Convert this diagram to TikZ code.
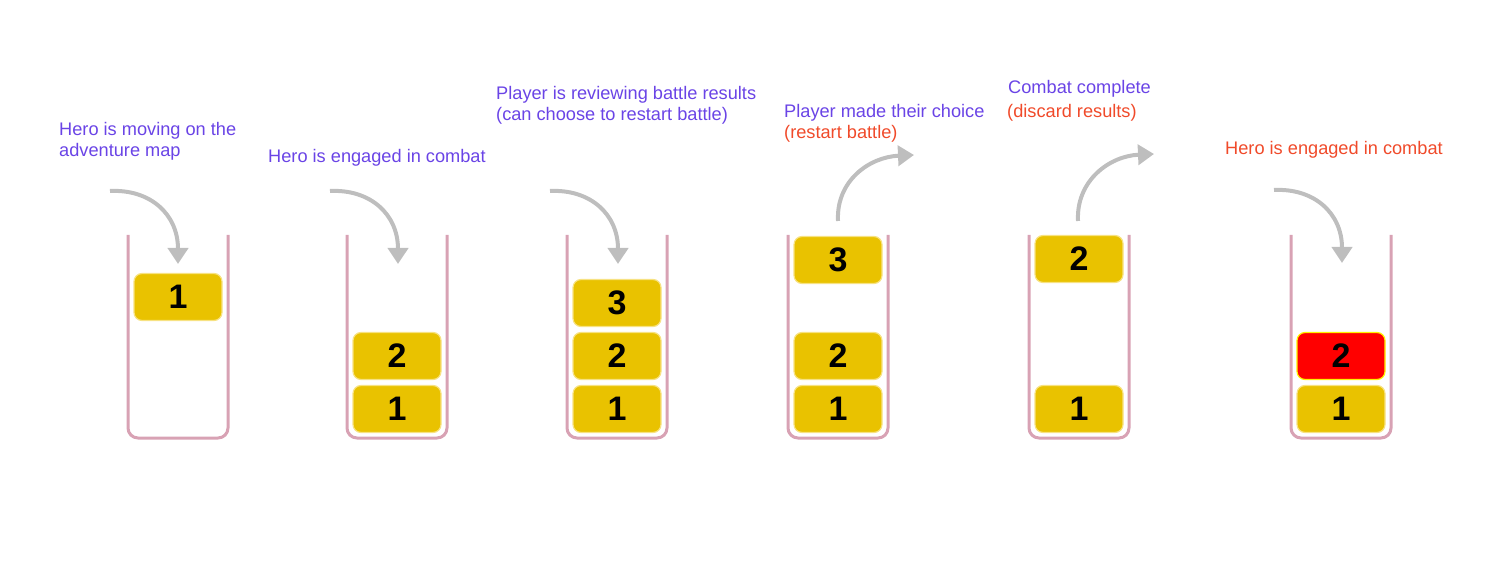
\documentclass[tikz,border=0pt]{standalone}
\usepackage{fontspec}
\setmainfont{Liberation Sans}
\usetikzlibrary{arrows.meta}
\definecolor{mygold}{RGB}{233, 194, 0}
\definecolor{myglow}{RGB}{247, 226, 130}
\definecolor{mypurple}{RGB}{106, 68, 230}
\definecolor{myred}{RGB}{240, 74, 42}
\definecolor{mygray}{RGB}{190, 190, 190}
\definecolor{mypink}{RGB}{216, 162, 180}

\begin{document}
\begin{tikzpicture}[x=1pt,y=-1pt,
	slot/.style={draw=myglow,line width=1.2pt,fill=mygold,rounded corners=8pt,minimum width=88pt,minimum height=47pt,inner sep=0pt,font=\fontsize{34}{34}\selectfont\bfseries},
	cup/.style={draw=mypink,line width=3pt,rounded corners=10pt},
	move/.style={draw=mygray,line width=4pt,-{Triangle[width=20pt,length=16pt]}},
	note/.style={anchor=base west,inner sep=0pt,font=\fontsize{18.2}{21}\selectfont,text=mypurple},
	alert/.style={note,text=myred}]
	\useasboundingbox (0,0) rectangle (1495,577);
  		\draw[cup] (128,235) -- (128,438) -- (228,438) -- (228,235);
  		\draw[cup] (347,235) -- (347,438) -- (447,438) -- (447,235);
  		\draw[cup] (567,235) -- (567,438) -- (667,438) -- (667,235);
  		\draw[cup] (788,235) -- (788,438) -- (888,438) -- (888,235);
  		\draw[cup] (1029,235) -- (1029,438) -- (1129,438) -- (1129,235);
  		\draw[cup] (1291,235) -- (1291,438) -- (1391,438) -- (1391,235);
		\node[slot] (a1) at (178,297) {1};
		\node[slot] (b1) at (397,409) {1};
		\node[slot] (b2) at (397,356) {2};
		\node[slot] (c1) at (617,409) {1};
		\node[slot] (c2) at (617,356) {2};
		\node[slot] (c3) at (617,303) {3};
		\node[slot] (d1) at (838,409) {1};
		\node[slot] (d2) at (838,356) {2};
		\node[slot] (d3) at (838,260) {3};
		\node[slot] (e1) at (1079,409) {1};
		\node[slot] (e2) at (1079,259) {2};
		\node[slot] (f1) at (1341,409) {1};
		\node[slot,fill=red,draw=yellow] (f2) at (1341,356) {2};
		\node[note] (n1a) at (59,136) {Hero is moving on the};
		\node[note] (n1b) at (59,157) {adventure map};
		\node[note] (n2) at (268,163) {Hero is engaged in combat};
		\node[note] (n3a) at (496,100) {Player is reviewing battle results};
		\node[note] (n3b) at (496,121) {(can choose to restart battle)};
		\node[note] (n4a) at (784,118) {Player made their choice};
		\node[alert] (n4b) at (784,139) {(restart battle)};
		\node[note] (n5a) at (1008,94) {Combat complete};
		\node[alert] (n5b) at (1007,118) {(discard results)};
		\node[alert] (n6) at (1225,155) {Hero is engaged in combat};
		\coordinate (s1) at (110,191); \coordinate (t1) at (178,264);
		\coordinate (s2) at (330,191); \coordinate (t2) at (398,264);
		\coordinate (s3) at (550,191); \coordinate (t3) at (618,264);
		\coordinate (s4) at (838,221); \coordinate (t4) at (914,155);
		\coordinate (s5) at (1078,221); \coordinate (t5) at (1154,154);
		\coordinate (s6) at (1274,190); \coordinate (t6) at (1342,263);
		\draw[move] (s1) .. controls +(40,-2) and +(0,-50) .. (t1);
		\draw[move] (s2) .. controls +(40,-2) and +(0,-50) .. (t2);
		\draw[move] (s3) .. controls +(40,-2) and +(0,-50) .. (t3);
		\draw[move] (s6) .. controls +(40,-2) and +(0,-50) .. (t6);
		\draw[move] (s4) .. controls +(-2,-40) and +(-45,2) .. (t4);
		\draw[move] (s5) .. controls +(-2,-40) and +(-45,2) .. (t5);
	\end{tikzpicture}
\end{document}
